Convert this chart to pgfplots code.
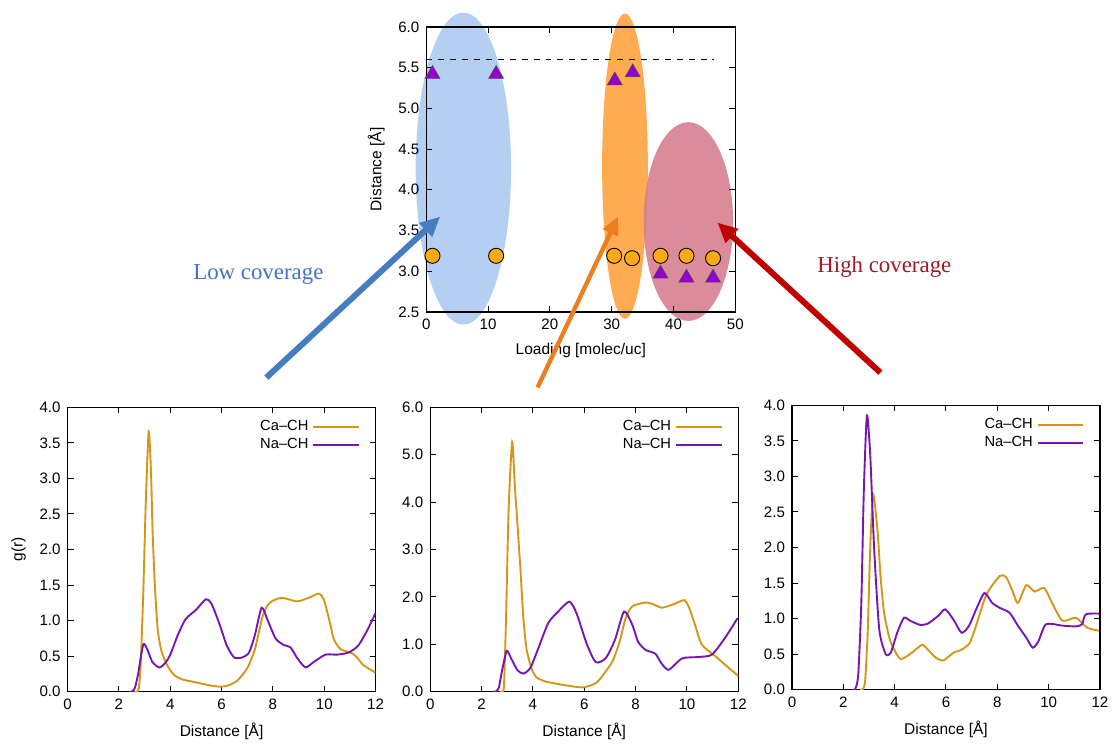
\documentclass[border=0pt]{standalone}
\usepackage{fontspec}
\setmainfont{Liberation Sans}
\newfontfamily\timesfont{Liberation Serif}
\usepackage{pgfplots}
\pgfplotsset{compat=1.18}
\usetikzlibrary{arrows.meta}

\definecolor{caline}{RGB}{212,150,20}
\definecolor{naline}{RGB}{118,22,178}
\definecolor{dotfill}{RGB}{255,170,20}
\definecolor{trifill}{RGB}{150,0,210}
\definecolor{blueell}{RGB}{172,202,240}
\definecolor{orangeell}{RGB}{255,166,72}
\definecolor{redell}{RGB}{214,128,144}
\definecolor{bluearr}{RGB}{70,125,190}
\definecolor{orangearr}{RGB}{238,125,30}
\definecolor{redarr}{RGB}{192,0,0}
\definecolor{lowtxt}{RGB}{68,114,196}
\definecolor{hightxt}{RGB}{160,24,42}

\pgfplotsset{
  gp/.style={
    scale only axis,
    axis line style={line width=0.7pt},
    tick style={black, line width=0.5pt},
    major tick length=3pt,
    tick label style={font=\fontsize{7.6}{9}\selectfont},
    label style={font=\fontsize{7.8}{9}\selectfont},
    /pgf/number format/assume math mode=true,
  },
  grfig/.style={
    gp, width=155pt, height=143pt,
    xmin=0, xmax=12, ymin=0, xtick={0,2,...,12},
    xlabel={Distance [Å]},
    yticklabel style={/pgf/number format/.cd, fixed, fixed zerofill, precision=1},
    legend plot pos=right, legend cell align=right,
    legend style={at={(rel axis cs:0.97,0.985)}, anchor=north east, draw=none, fill=none,
      font=\fontsize{7.4}{8}\selectfont, row sep=-1.5pt},
    legend image code/.code={\draw[##1] (0pt,0pt) -- (23pt,0pt);},
  },
  ca/.style={caline, line width=0.95pt, smooth, tension=0.4},
  na/.style={naline, line width=0.95pt, smooth, tension=0.4},
}

\begin{document}
\begin{tikzpicture}
\path (0pt,0pt) rectangle (557.5pt,-372pt);

% top: peak distances vs loading
\begin{axis}[gp, at={(214.5pt,-157pt)}, anchor=south west,
  width=155.5pt, height=143.5pt, clip=false, axis on top,
  xmin=0, xmax=50, ymin=2.5, ymax=6.0,
  xtick={0,10,...,50}, ytick={2.5,3.0,...,6.0},
  yticklabel style={/pgf/number format/.cd, fixed, fixed zerofill, precision=1},
  xlabel={Loading [molec/uc]}, ylabel={Distance [Å]}]
  \fill[blueell, opacity=0.9] (axis cs:6,4.26) ellipse [x radius=24pt, y radius=78.5pt];
  \fill[orangeell, opacity=0.95] (axis cs:32.15,4.29) ellipse [x radius=11.5pt, y radius=76.8pt];
  \fill[redell, opacity=0.9] (axis cs:42.4,3.61) ellipse [x radius=22.5pt, y radius=50pt];
  \addplot[black, dashed, line width=0.6pt] coordinates {(0,5.6) (46.5,5.6)};
  \addplot[only marks, mark=*, mark size=3.8pt,
    mark options={fill=dotfill, draw=black, line width=0.45pt}]
    coordinates {(1,3.19) (11.3,3.19) (30.4,3.19) (33.3,3.16) (37.9,3.19) (42.1,3.19) (46.4,3.16)};
  \addplot[only marks, mark=triangle*, mark size=4.3pt,
    mark options={fill=trifill, draw=black!70, line width=0.3pt}]
    coordinates {(1,5.42) (11.3,5.42) (30.5,5.34) (33.4,5.44) (37.9,2.97) (42.1,2.92) (46.4,2.92)};
\end{axis}

% bottom left: low coverage
\begin{axis}[grfig, at={(34pt,-348pt)}, anchor=south west,
  ymax=4, ytick={0,0.5,...,4}, ylabel={g(r)}]
  \addplot[ca] coordinates {(2.6,0) (2.7,0) (2.78,0.05) (2.85,0.4) (2.95,1.4) (3.05,2.7) (3.16,3.66) (3.25,3.1)
    (3.31,2.28) (3.4,1.5) (3.51,0.88) (3.65,0.58) (3.83,0.41) (4.0,0.3) (4.2,0.22) (4.48,0.17)
    (5.0,0.13) (5.5,0.09) (5.9,0.07) (6.2,0.08) (6.6,0.15) (7.0,0.33) (7.3,0.6) (7.59,1.05)
    (7.8,1.22) (8.0,1.28) (8.36,1.32) (8.94,1.27) (9.4,1.32) (9.79,1.38) (9.98,1.3) (10.2,1.0)
    (10.37,0.74) (10.63,0.6) (11.08,0.54) (11.3,0.47) (11.53,0.37) (11.99,0.27)};
  \addlegendentry{Ca--CH}
  \addplot[na] coordinates {(2.4,0) (2.5,0) (2.62,0.05) (2.75,0.25) (2.85,0.48) (2.96,0.67) (3.1,0.6) (3.3,0.42)
    (3.57,0.34) (3.8,0.4) (4.0,0.52) (4.3,0.8) (4.6,1.02) (5.0,1.15) (5.39,1.3) (5.6,1.24)
    (5.9,0.97) (6.2,0.65) (6.49,0.48) (6.8,0.48) (7.07,0.55) (7.3,0.8) (7.56,1.18) (7.8,1.0)
    (8.1,0.75) (8.4,0.66) (8.69,0.62) (8.95,0.47) (9.27,0.34) (9.6,0.42) (10.05,0.52) (10.5,0.52)
    (10.95,0.55) (11.33,0.65) (11.7,0.88) (11.99,1.1)};
  \addlegendentry{Na--CH}
\end{axis}

% bottom middle: intermediate
\begin{axis}[grfig, at={(216.5pt,-348pt)}, anchor=south west,
  ymax=6, ytick={0,1,...,6}]
  \addplot[ca] coordinates {(2.7,0) (2.8,0) (2.87,0.1) (2.95,1.5) (3.05,3.8) (3.19,5.27) (3.3,4.3) (3.5,2.7)
    (3.62,1.6) (3.75,0.9) (3.95,0.48) (4.14,0.3) (4.5,0.21) (4.79,0.18) (5.3,0.13) (5.95,0.09)
    (6.5,0.2) (7.1,0.64) (7.4,1.1) (7.61,1.55) (7.87,1.8) (8.39,1.88) (8.7,1.84) (9.03,1.77)
    (9.5,1.85) (9.9,1.93) (10.1,1.75) (10.32,1.4) (10.58,0.99) (11.1,0.75) (11.48,0.57) (12,0.33)};
  \addlegendentry{Ca--CH}
  \addplot[na] coordinates {(2.45,0) (2.55,0) (2.67,0.08) (2.8,0.45) (2.98,0.86) (3.15,0.7) (3.4,0.45) (3.63,0.38)
    (3.9,0.5) (4.2,0.9) (4.6,1.45) (5.0,1.7) (5.42,1.9) (5.7,1.65) (6.1,1.0) (6.45,0.62)
    (6.84,0.71) (7.2,1.1) (7.55,1.69) (7.87,1.41) (8.1,1.05) (8.39,0.88) (8.77,0.8) (9.0,0.6)
    (9.29,0.46) (9.81,0.7) (10.45,0.73) (10.97,0.78) (11.48,1.13) (11.97,1.55)};
  \addlegendentry{Na--CH}
\end{axis}

% bottom right: high coverage
\begin{axis}[grfig, at={(398.5pt,-347pt)}, anchor=south west,
  ymax=4, ytick={0,0.5,...,4}]
  \addplot[ca] coordinates {(2.65,0) (2.75,0) (2.85,0.12) (2.95,0.8) (3.05,2.0) (3.16,2.75) (3.33,2.25) (3.45,1.6)
    (3.59,1.08) (3.8,0.72) (3.97,0.57) (4.23,0.43) (4.6,0.5) (5.07,0.63) (5.3,0.56) (5.6,0.45)
    (5.9,0.41) (6.29,0.52) (6.6,0.56) (6.93,0.66) (7.19,0.92) (7.58,1.34) (8.1,1.6) (8.35,1.58)
    (8.6,1.38) (8.8,1.22) (9.13,1.47) (9.45,1.38) (9.83,1.43) (10.16,1.2) (10.54,0.97)
    (11.06,1.01) (11.51,0.87) (11.96,0.83)};
  \addlegendentry{Ca--CH}
  \addplot[na] coordinates {(2.35,0) (2.45,0) (2.58,0.2) (2.7,1.2) (2.8,2.8) (2.92,3.86) (3.05,3.3) (3.2,2.0)
    (3.4,0.85) (3.65,0.5) (3.85,0.52) (4.1,0.8) (4.36,1.01) (4.6,0.97) (5.0,0.91) (5.3,0.93)
    (5.7,1.04) (5.97,1.13) (6.3,0.98) (6.61,0.8) (6.9,0.9) (7.2,1.15) (7.5,1.36) (7.8,1.22)
    (8.1,1.15) (8.48,1.08) (8.8,0.9) (9.13,0.73) (9.38,0.59) (9.6,0.68) (9.9,0.92) (10.54,0.9)
    (11.06,0.89) (11.3,0.92) (11.45,1.06) (11.96,1.07)};
  \addlegendentry{Na--CH}
\end{axis}

% arrows and captions
\draw[bluearr, line width=3pt, -{Triangle[length=10pt, width=9pt]}] (134pt,-190pt) -- (221.5pt,-109pt);
\draw[orangearr, line width=2.2pt, -{Triangle[length=9pt, width=8pt]}] (270.5pt,-195pt) -- (311pt,-109pt);
\draw[redarr, line width=3pt, -{Triangle[length=10pt, width=9pt]}] (443pt,-187.5pt) -- (361pt,-112pt);
\node[lowtxt, font=\timesfont\fontsize{11.5}{12}\selectfont] at (130pt,-138pt) {Low coverage};
\node[hightxt, font=\timesfont\fontsize{11.5}{12}\selectfont] at (445pt,-134.5pt) {High coverage};
\end{tikzpicture}
\end{document}
